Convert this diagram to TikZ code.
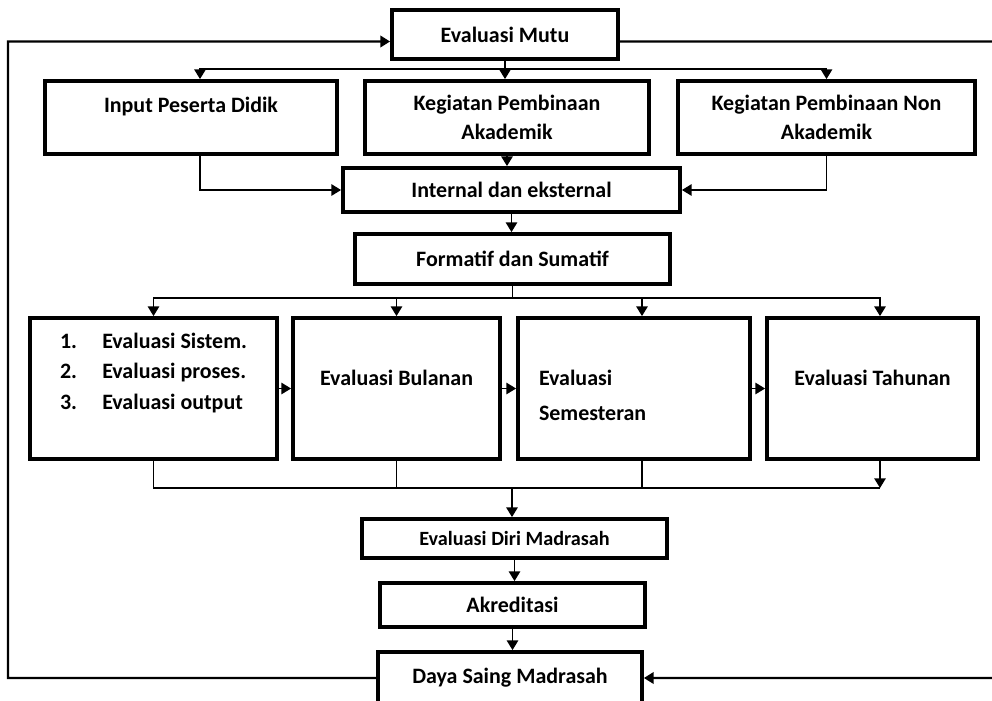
\documentclass[tikz,border=0pt]{standalone}
\usepackage{fontspec}
\setmainfont{Carlito}
\usetikzlibrary{arrows.meta}

\begin{document}
\begin{tikzpicture}[
  every node/.style={font=\bfseries\fontsize{12.5}{16.6}\selectfont},
  box/.style={draw, line width=2.2pt, inner sep=2pt},
  flow/.style={-{Triangle[length=5.5pt,width=6.5pt]}, line width=0.8pt},
  link/.style={line width=0.8pt},
  fb/.style={line width=1.2pt}
]
\useasboundingbox (0,0) rectangle (19.84,-14);
% Evaluasi Mutu and the three inputs
\node[box, minimum width=4.52cm, minimum height=0.98cm] (mutu) at (10.10,-0.69) {Evaluasi Mutu};
\node[box, minimum width=5.84cm, minimum height=1.46cm, text depth=0.51cm] (inp) at (3.82,-2.35) {Input Peserta Didik};
\node[box, minimum width=5.68cm, minimum height=1.46cm, align=center] (akd) at (10.14,-2.35) {Kegiatan Pembinaan\\Akademik};
\node[box, minimum width=5.94cm, minimum height=1.46cm, align=center] (nak) at (16.53,-2.35) {Kegiatan Pembinaan Non\\Akademik};
% middle column
\node[box, minimum width=6.74cm, minimum height=0.88cm] (intl) at (10.23,-3.80) {Internal dan eksternal};
\node[box, minimum width=6.30cm, minimum height=1.00cm] (form) at (10.25,-5.18) {Formatif dan Sumatif};
% the four evaluations
\node[box, minimum width=4.94cm, minimum height=2.82cm, text depth=0.69cm, align=left,
  font=\bfseries\fontsize{12.5}{17.6}\selectfont] (sys) at (3.07,-7.77)
  {\makebox[24pt][l]{1.}Evaluasi Sistem.\\\makebox[24pt][l]{2.}Evaluasi proses.\\\makebox[24pt][l]{3.}Evaluasi output};
\node[box, minimum width=4.14cm, minimum height=2.82cm, text depth=0.42cm] (bul) at (7.93,-7.77) {Evaluasi Bulanan};
\node[box, minimum width=4.64cm, minimum height=2.82cm, text depth=0.44cm, text width=3.8cm, inner xsep=0.4cm, align=left,
  font=\bfseries\fontsize{12.5}{19.8}\selectfont] (sem) at (12.68,-7.77) {Evaluasi\\Semesteran};
\node[box, minimum width=4.22cm, minimum height=2.82cm, text depth=0.42cm] (thn) at (17.45,-7.77) {Evaluasi Tahunan};
% bottom column
\node[box, minimum width=6.10cm, minimum height=0.78cm, font=\bfseries\fontsize{11.5}{14}\selectfont] (diri) at (10.29,-10.77) {Evaluasi Diri Madrasah};
\node[box, minimum width=5.30cm, minimum height=0.88cm] (akr) at (10.25,-12.10) {Akreditasi};
\node[box, minimum width=5.28cm, minimum height=1.04cm] (daya) at (10.20,-13.56) {Daya Saing Madrasah};

% branch under Evaluasi Mutu
\coordinate (tb) at (10.10,-1.38);
\draw[link] (mutu.south) -- (tb);
\draw[flow] (tb) -| ([xshift=0.18cm]inp.north);
\draw[flow] (tb) -| (nak.north);
\draw[flow] (tb) -- (akd.north -| tb);
% into Internal dan eksternal
\draw[flow] ([xshift=0.18cm]inp.south) |- (intl.west);
\draw[flow] (nak.south) |- (intl.east);
\draw[flow] (akd.south) -- (akd.south |- intl.north);
\draw[flow] (intl.south) -- (intl.south |- form.north);
% branch under Formatif dan Sumatif
\coordinate (mb) at (10.25,-5.96);
\draw[link] (form.south) -- (mb);
\draw[flow] (mb) -| (sys.north);
\draw[flow] (mb) -| (bul.north);
\draw[flow] (mb) -| ([xshift=0.16cm]sem.north);
\draw[flow] (mb) -| ([xshift=0.15cm]thn.north);
\draw[flow] (sys) -- (bul);
\draw[flow] (bul) -- (sem);
\draw[flow] (sem) -- (thn);
% collecting line
\coordinate (cb) at (10.24,-9.76);
\draw[link] (sys.south) |- ([xshift=0.15cm]thn.south |- cb);
\draw[link] (bul.south) -- (bul.south |- cb);
\draw[link] ([xshift=0.16cm]sem.south) -- ([xshift=0.16cm]sem.south |- cb);
\draw[flow] ([xshift=0.15cm]thn.south) -- ([xshift=0.15cm]thn.south |- cb);
\draw[flow] (cb) -- (cb |- diri.north);
\draw[flow] (diri.south) -- (diri.south |- akr.north);
\draw[flow] (akr.south) -- (akr.south |- daya.north);
% feedback loops
\draw[flow, fb] (daya.west) -| (0.16,-0.83) -- ([yshift=-0.14cm]mutu.west);
\draw[flow, fb] ([yshift=-0.14cm]mutu.east) -- (19.9,-0.83) |- (daya.east);
\end{tikzpicture}
\end{document}
